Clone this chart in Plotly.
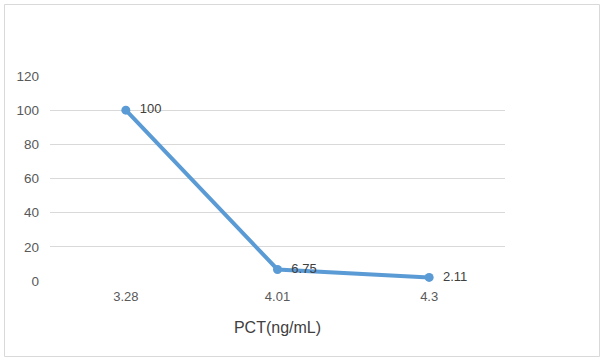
import plotly.graph_objects as go

categories = ["3.28", "4.01", "4.3"]
values = [100, 6.75, 2.11]
value_labels = ["100", "6.75", "2.11"]
y_ticks = [0, 20, 40, 60, 80, 100, 120]

W, H = 604, 364
L, R, T, B = 50, 99, 76, 83
pw, ph = W - L - R, H - T - B

fig = go.Figure()
fig.add_trace(go.Scatter(
    x=categories, y=values, mode="lines+markers+text",
    text=value_labels, texttemplate="  %{text}", textposition="middle right",
    textfont=dict(family="Liberation Sans, Arial, sans-serif", size=13, color="#404040"),
    line=dict(color="#5B9BD5", width=4),
    marker=dict(color="#5B9BD5", size=9),
    cliponaxis=False, showlegend=False,
))

def px(x):
    return (x - L) / pw

def py(y):
    return 1 - (y - T) / ph

fig.add_shape(type="rect", xref="paper", yref="paper",
              x0=px(4.5), x1=px(599.5), y0=py(356.5), y1=py(4.5),
              line=dict(color="#D9D9D9", width=1), fillcolor="rgba(0,0,0,0)")

fig.update_layout(
    width=W, height=H,
    margin=dict(l=L, r=R, t=T, b=B),
    paper_bgcolor="white", plot_bgcolor="white",
    font=dict(family="Liberation Sans, Arial, sans-serif", color="#595959", size=13),
    xaxis=dict(type="category", range=[-0.5, 2.5], showgrid=False, showline=False,
               ticks="", tickfont=dict(size=13, color="#595959"), ticklabelstandoff=6,
               title=dict(text="PCT(ng/mL)", font=dict(size=16, color="#404040"), standoff=18)),
    yaxis=dict(range=[0, 120], tickvals=y_ticks, showgrid=True, gridcolor="#D9D9D9",
               gridwidth=1, zeroline=False, showline=False, ticks="",
               tickfont=dict(size=13.5, color="#595959"), ticklabelstandoff=10),
)
fig.write_html("out.html", config={"displayModeBar": False},
               post_script="document.body.style.margin='0';")
